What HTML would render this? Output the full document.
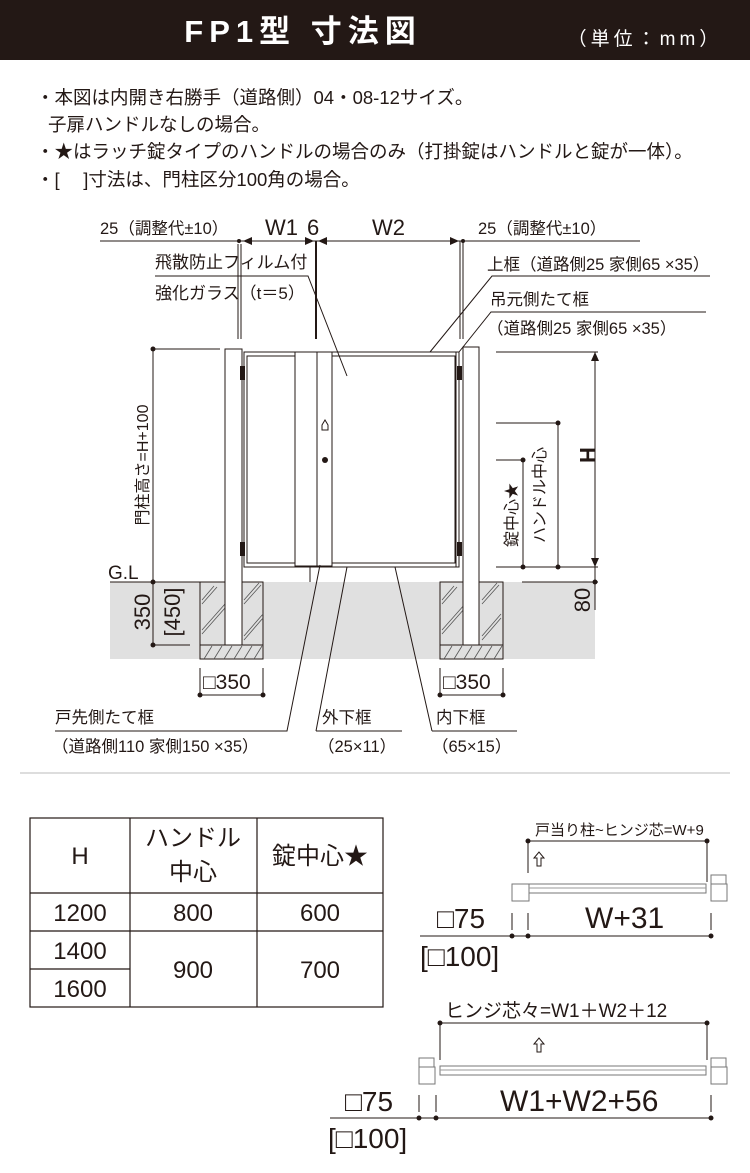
<!DOCTYPE html>
<html><head><meta charset="utf-8"><style>
body{margin:0;width:750px;height:1173px;background:#fff;overflow:hidden}
svg{display:block}
text{font-family:"Liberation Sans","Noto Sans CJK JP",sans-serif;fill:#231815}
</style></head><body>
<svg width="750" height="1173" viewBox="0 0 750 1173" xmlns="http://www.w3.org/2000/svg">
<rect x="0" y="0" width="750" height="60" fill="#231815"/>
<text x="303" y="42" font-size="31" font-weight="bold" style="fill:#fff" text-anchor="middle" letter-spacing="6">FP1型 寸法図</text>
<text x="645" y="45" font-size="19" style="fill:#fff" text-anchor="middle" letter-spacing="4">（単位：mm）</text>

<g font-size="18.5">
<text x="36" y="104">・本図は内開き右勝手（道路側）04・08-12サイズ。</text>
<text x="48" y="131">子扉ハンドルなしの場合。</text>
<text x="36" y="158">・★はラッチ錠タイプのハンドルの場合のみ（打掛錠はハンドルと錠が一体）。</text>
<text x="36" y="186">・[　 ]寸法は、門柱区分100角の場合。</text>
</g>

<!-- ground -->
<rect x="110" y="582" width="485" height="77" fill="#e0e0e0"/>
<g stroke="#231815" fill="none" stroke-width="1">
<rect x="200" y="582" width="63" height="77"/>
<rect x="440" y="582" width="63" height="77"/>
<line x1="200" y1="645" x2="263" y2="645"/><line x1="440" y1="645" x2="503" y2="645"/>
</g>
<g stroke="#555" stroke-width="0.8">
<path d="M202 600l12-14M202 604l15-17M202 630l23-26M202 634l23-26M244 600l15-17M244 604l17-19M244 636l19-22M244 640l19-22"/>
<path d="M442 600l12-14M442 604l15-17M442 630l23-26M442 634l23-26M482 600l15-17M482 604l17-19M482 636l19-22M482 640l19-22"/>
<path d="M204 659l8-13M214 659l8-13M224 659l8-13M234 659l8-13M244 659l8-13M254 659l8-13"/>
<path d="M444 659l8-13M454 659l8-13M464 659l8-13M474 659l8-13M484 659l8-13M494 659l8-13"/>
</g>

<!-- posts -->
<g stroke="#231815" fill="#fff" stroke-width="1">
<rect x="225" y="349" width="17" height="296"/>
<rect x="463" y="347" width="16" height="298"/>
<rect x="244" y="352" width="215" height="215" fill="none"/>
<rect x="247" y="356" width="48" height="207" fill="none"/>
<rect x="295" y="352" width="22" height="214" fill="none"/>
<rect x="317" y="352" width="15" height="214" fill="none"/>
<rect x="332" y="356" width="123" height="207" fill="none"/>
<line x1="310" y1="567" x2="310" y2="582"/>
<line x1="456" y1="352" x2="456" y2="567"/>
</g>
<g fill="#231815">
<rect x="240" y="366" width="5" height="14"/><rect x="240" y="542" width="5" height="14"/>
<rect x="457" y="366" width="5" height="14"/><rect x="457" y="542" width="5" height="14"/>
<circle cx="325" cy="460" r="3"/>
</g>
<path d="M322 425l3-5 3 5v5h-6z" fill="none" stroke="#231815"/>

<!-- top dims -->
<g stroke="#231815" stroke-width="1" fill="none">
<line x1="100" y1="241" x2="460" y2="241"/>
<line x1="460" y1="241" x2="640" y2="241"/>
<line x1="238" y1="244" x2="238" y2="339"/><line x1="241" y1="244" x2="241" y2="339"/>
<line x1="316" y1="241" x2="316" y2="339" stroke-width="2"/>
<line x1="460" y1="241" x2="460" y2="339"/><line x1="463" y1="241" x2="463" y2="339"/>
<path d="M155 276h153l39 100"/>
<path d="M430 352l62-76h218"/>
<path d="M459 352l32-40h215"/>
</g>
<g fill="#231815">
<circle cx="239" cy="241" r="2"/><circle cx="463" cy="241" r="2"/>
<path d="M243 241l9-4v8z M314 241l-9-4v8z M318 241l9-4v8z M459 241l-9-4v8z"/>
</g>
<g font-size="16.5">
<text x="100" y="234">25（調整代±10）</text>
<text x="478" y="234">25（調整代±10）</text>
<text x="155" y="268" font-size="17">飛散防止フィルム付</text>
<text x="155" y="299" font-size="17">強化ガラス（t＝5）</text>
<text x="487" y="270">上框（道路側25 家側65 ×35）</text>
<text x="490" y="305">吊元側たて框</text>
<text x="487" y="334">（道路側25 家側65 ×35）</text>
</g>
<g font-size="22"><text x="265" y="235">W1</text><text x="307" y="235">6</text><text x="372" y="235">W2</text></g>

<!-- left vertical dims -->
<g stroke="#231815" fill="none">
<line x1="153" y1="349" x2="153" y2="645"/>
<line x1="153" y1="349" x2="220" y2="349"/>
<line x1="110" y1="582" x2="200" y2="582"/>
<line x1="153" y1="645" x2="190" y2="645"/>
</g>
<g fill="#231815"><circle cx="153" cy="349" r="2.5"/><circle cx="153" cy="582" r="2.5"/><circle cx="153" cy="645" r="2.5"/></g>
<text transform="translate(148,465) rotate(-90)" font-size="16" text-anchor="middle">門柱高さ=H+100</text>
<text x="108" y="579" font-size="19">G.L</text>
<text transform="translate(150,612) rotate(-90)" font-size="22" text-anchor="middle">350</text>
<text transform="translate(180,612) rotate(-90)" font-size="22" text-anchor="middle">[450]</text>

<!-- right dims -->
<g stroke="#231815" fill="none">
<line x1="496" y1="352" x2="598" y2="352"/>
<line x1="595" y1="352" x2="595" y2="610"/>
<line x1="496" y1="423" x2="559" y2="423"/>
<line x1="558" y1="423" x2="558" y2="567"/>
<line x1="496" y1="460" x2="524" y2="460"/>
<line x1="523" y1="460" x2="523" y2="567"/>
<line x1="496" y1="567" x2="598" y2="567"/>
<line x1="522" y1="582" x2="598" y2="582"/>
</g>
<g fill="#231815">
<path d="M595 352l-4 9h8z M595 567l-4-9h8z"/>
<circle cx="558" cy="423" r="2.5"/><circle cx="523" cy="460" r="2.5"/>
<circle cx="558" cy="567" r="2.5"/><circle cx="523" cy="567" r="2.5"/><circle cx="595" cy="582" r="2.5"/>
</g>
<text transform="translate(580,455) rotate(90)" font-size="22" font-weight="bold" text-anchor="middle">H</text>
<text transform="translate(545,495) rotate(-90)" font-size="16" text-anchor="middle">ハンドル中心</text>
<text transform="translate(517,515) rotate(-90)" font-size="16" text-anchor="middle">錠中心★</text>
<text transform="translate(590,600) rotate(-90)" font-size="22" text-anchor="middle">80</text>

<!-- □350 -->
<g stroke="#231815" fill="none">
<line x1="200" y1="668" x2="200" y2="695"/><line x1="263" y1="668" x2="263" y2="695"/><line x1="200" y1="695" x2="263" y2="695"/>
<line x1="440" y1="668" x2="440" y2="695"/><line x1="503" y1="668" x2="503" y2="695"/><line x1="440" y1="695" x2="503" y2="695"/>
</g>
<g fill="#231815"><circle cx="200" cy="695" r="2.5"/><circle cx="263" cy="695" r="2.5"/><circle cx="440" cy="695" r="2.5"/><circle cx="503" cy="695" r="2.5"/></g>
<text x="203" y="689" font-size="21">□350</text>
<text x="443" y="689" font-size="21">□350</text>

<!-- bottom labels -->
<g stroke="#231815" fill="none">
<path d="M55 731h232l33-166"/>
<path d="M316 731h86M316 731l31-164"/>
<path d="M432 731h85M432 731l-37-164"/>
</g>
<g font-size="16.5">
<text x="55" y="723">戸先側たて框</text>
<text x="52" y="752">（道路側110 家側150 ×35）</text>
<text x="322" y="723">外下框</text>
<text x="318" y="752">（25×11）</text>
<text x="436" y="723">内下框</text>
<text x="432" y="752">（65×15）</text>
</g>

<line x1="20" y1="773" x2="730" y2="773" stroke="#bbb"/>

<!-- table -->
<g stroke="#231815" fill="none" stroke-width="1.2">
<rect x="30" y="818" width="353" height="189"/>
<line x1="130" y1="818" x2="130" y2="1007"/>
<line x1="257" y1="818" x2="257" y2="1007"/>
<line x1="30" y1="893" x2="383" y2="893"/>
<line x1="30" y1="931" x2="383" y2="931"/>
<line x1="30" y1="969" x2="130" y2="969"/>
</g>
<g font-size="24" text-anchor="middle">
<text x="80" y="864">H</text>
<text x="193" y="846">ハンドル</text>
<text x="193" y="880">中心</text>
<text x="320" y="864">錠中心★</text>
<text x="80" y="921">1200</text><text x="193" y="921">800</text><text x="320" y="921">600</text>
<text x="80" y="959">1400</text><text x="80" y="997">1600</text>
<text x="193" y="978">900</text><text x="320" y="978">700</text>
</g>

<!-- plan 1 -->
<g stroke="#231815" fill="none">
<line x1="528" y1="841" x2="707" y2="841"/>
<line x1="528" y1="841" x2="528" y2="873"/>
<line x1="707" y1="841" x2="707" y2="882"/>
<rect x="512" y="884" width="17" height="17" stroke="#777" fill="#fff"/>
<rect x="529" y="884" width="177" height="9" stroke="#777"/>
<line x1="529" y1="888" x2="706" y2="888" stroke="#999"/>
<rect x="711" y="875" width="15" height="9" stroke="#777"/>
<rect x="711" y="884" width="16" height="17" stroke="#777"/>
<path d="M537 866v-8h-3l5-6 5 6h-3v8z"/>
<line x1="420" y1="936" x2="711" y2="936"/>
<line x1="512" y1="913" x2="512" y2="930"/><line x1="528" y1="913" x2="528" y2="930"/><line x1="711" y1="913" x2="711" y2="930"/>
</g>
<g fill="#231815"><circle cx="528" cy="841" r="2.5"/><circle cx="707" cy="841" r="2.5"/><circle cx="512" cy="936" r="2.5"/><circle cx="528" cy="936" r="2.5"/><circle cx="711" cy="936" r="2.5"/></g>
<text x="535" y="835" font-size="15">戸当り柱~ヒンジ芯=W+9</text>
<text x="585" y="928" font-size="30">W+31</text>
<text x="437" y="928" font-size="28">□75</text>
<text x="420" y="966" font-size="28">[□100]</text>

<!-- plan 2 -->
<g stroke="#231815" fill="none">
<line x1="440" y1="1023" x2="707" y2="1023"/>
<line x1="440" y1="1023" x2="440" y2="1060"/>
<line x1="707" y1="1023" x2="707" y2="1060"/>
<rect x="419" y="1058" width="15" height="9" stroke="#777"/>
<rect x="419" y="1067" width="16" height="17" stroke="#777"/>
<rect x="711" y="1058" width="15" height="9" stroke="#777"/>
<rect x="711" y="1067" width="16" height="17" stroke="#777"/>
<rect x="440" y="1066" width="266" height="9" stroke="#777"/>
<line x1="440" y1="1070" x2="706" y2="1070" stroke="#999"/>
<path d="M537 1052v-8h-3l5-6 5 6h-3v8z"/>
<line x1="330" y1="1118" x2="711" y2="1118"/>
<line x1="419" y1="1095" x2="419" y2="1112"/><line x1="436" y1="1095" x2="436" y2="1112"/><line x1="711" y1="1095" x2="711" y2="1112"/>
</g>
<g fill="#231815"><circle cx="440" cy="1023" r="2.5"/><circle cx="707" cy="1023" r="2.5"/><circle cx="419" cy="1118" r="2.5"/><circle cx="436" cy="1118" r="2.5"/><circle cx="711" cy="1118" r="2.5"/></g>
<text x="445" y="1017" font-size="19">ヒンジ芯々=W1＋W2＋12</text>
<text x="500" y="1111" font-size="30">W1+W2+56</text>
<text x="345" y="1111" font-size="28">□75</text>
<text x="328" y="1148" font-size="28">[□100]</text>
</svg>
</body></html>
